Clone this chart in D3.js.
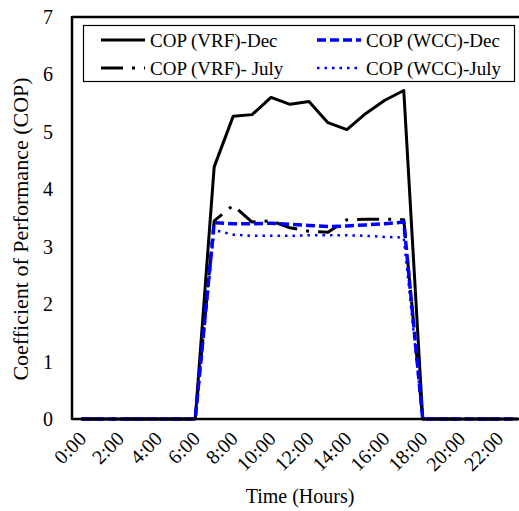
<!DOCTYPE html>
<html>
<head>
<meta charset="utf-8">
<script src="https://cdn.jsdelivr.net/npm/d3@7"></script>
<style>
  body { margin: 0; background: #fff; }
  text { font-family: 'Liberation Serif', 'Times New Roman', 'DejaVu Serif', serif; }
</style>
</head>
<body>
<div id="chart"></div>
<script>
// hours of the day (categories)
const hours = d3.range(0, 24);
const hourLabels = hours.filter(h => h % 2 === 0).map(h => h + ':00');

// COP values per hour
const vrfDec  = [0,0,0,0,0,0,0, 4.39,5.27,5.30,5.60,5.48,5.53,5.16,5.04,5.32,5.55,5.72, 0,0,0,0,0,0];
const vrfJuly = [0,0,0,0,0,0,0, 3.45,3.72,3.43,3.45,3.33,3.27,3.25,3.47,3.48,3.48,3.47, 0,0,0,0,0,0];
const wccDec  = [0,0,0,0,0,0,0, 3.42,3.40,3.40,3.41,3.39,3.37,3.35,3.36,3.38,3.40,3.43, 0,0,0,0,0,0];
const wccJuly = [0,0,0,0,0,0,0, 3.29,3.21,3.19,3.19,3.19,3.20,3.20,3.20,3.19,3.17,3.16, 0,0,0,0,0,0];
const yTicks = [0, 1, 2, 3, 4, 5, 6, 7];

const seriesNames = ['COP (VRF)-Dec', 'COP (WCC)-Dec', 'COP (VRF)- July', 'COP (WCC)-July'];

const width = 519, height = 511;
const margin = { top: 17, left: 72 };
const plotW = 455, plotH = 402;
const serif = "'Liberation Serif', 'Times New Roman', 'DejaVu Serif', serif";

const svg = d3.select('#chart')
  .append('svg')
  .attr('width', width)
  .attr('height', height)
  .attr('font-family', serif);

const x = d3.scaleLinear()
  .domain([-0.5, 23.5])
  .range([margin.left, margin.left + plotW]);

const y = d3.scaleLinear()
  .domain([0, 7])
  .range([margin.top + plotH, margin.top]);

// styles for each series
const styles = [
  { data: vrfDec,  color: '#000', width: 3,   dash: null },
  { data: wccDec,  color: '#0000ff', width: 3.5, dash: '9,4' },
  { data: vrfJuly, color: '#000', width: 3,   dash: '22,9,3,9' },
  { data: wccJuly, color: '#0000ff', width: 2.5, dash: '2.5,5' },
];

const line = d3.line()
  .x((d, i) => x(i))
  .y(d => y(d));

// draw order: solid black first, blue on top
[styles[0], styles[2], styles[1], styles[3]].forEach(s => {
  svg.append('path')
    .datum(s.data)
    .attr('d', line)
    .attr('fill', 'none')
    .attr('stroke', s.color)
    .attr('stroke-width', s.width)
    .attr('stroke-dasharray', s.dash)
    .attr('stroke-linejoin', 'round');
});

// axes / plot border
svg.append('line')
  .attr('x1', margin.left).attr('x2', margin.left)
  .attr('y1', margin.top - 1).attr('y2', margin.top + plotH + 1)
  .attr('stroke', '#000').attr('stroke-width', 2.5);
svg.append('line')
  .attr('x1', margin.left).attr('x2', width + 10)
  .attr('y1', margin.top).attr('y2', margin.top)
  .attr('stroke', '#000').attr('stroke-width', 2.5);
svg.append('line')
  .attr('x1', margin.left).attr('x2', width + 10)
  .attr('y1', margin.top + plotH).attr('y2', margin.top + plotH)
  .attr('stroke', '#000').attr('stroke-width', 2.5);

// y tick labels
svg.selectAll('text.ytick')
  .data(yTicks)
  .join('text')
  .attr('class', 'ytick')
  .attr('x', 53)
  .attr('y', d => y(d))
  .attr('dy', '0.35em')
  .attr('text-anchor', 'end')
  .style('font-family', serif)
  .style('font-size', '20px')
  .text(d => d);

// x tick labels, rotated
svg.selectAll('text.xtick')
  .data(hours.filter(h => h % 2 === 0))
  .join('text')
  .attr('class', 'xtick')
  .attr('transform', d => `translate(${x(d) + 6},${margin.top + plotH + 21}) rotate(-45)`)
  .attr('text-anchor', 'end')
  .style('font-family', serif)
  .style('font-size', '20px')
  .text((d, i) => hourLabels[i]);

// axis titles
svg.append('text')
  .attr('x', 300)
  .attr('y', 503)
  .attr('text-anchor', 'middle')
  .style('font-family', serif)
  .style('font-size', '20px')
  .text('Time (Hours)');

svg.append('text')
  .attr('transform', `translate(28,229) rotate(-90)`)
  .attr('text-anchor', 'middle')
  .style('font-family', serif)
  .style('font-size', '22px')
  .text('Coefficient of Performance (COP)');

// legend
const legend = svg.append('g');
legend.append('rect')
  .attr('x', 83.5).attr('y', 25.5)
  .attr('width', 431).attr('height', 56)
  .attr('fill', '#fff')
  .attr('stroke', '#000')
  .attr('stroke-width', 1.2);

const legPos = [
  { x: 101, y: 40 }, { x: 317, y: 40 },
  { x: 101, y: 68 }, { x: 317, y: 68 },
];
styles.forEach((s, i) => {
  const p = legPos[i];
  legend.append('line')
    .attr('x1', p.x).attr('x2', p.x + 44)
    .attr('y1', p.y).attr('y2', p.y)
    .attr('stroke', s.color)
    .attr('stroke-width', s.width)
    .attr('stroke-dasharray', s.dash);
  legend.append('text')
    .attr('x', p.x + 49)
    .attr('y', p.y)
    .attr('dy', '0.35em')
    .style('font-family', serif)
    .style('font-size', '19px')
    .text(seriesNames[i]);
});
</script>
</body>
</html>
